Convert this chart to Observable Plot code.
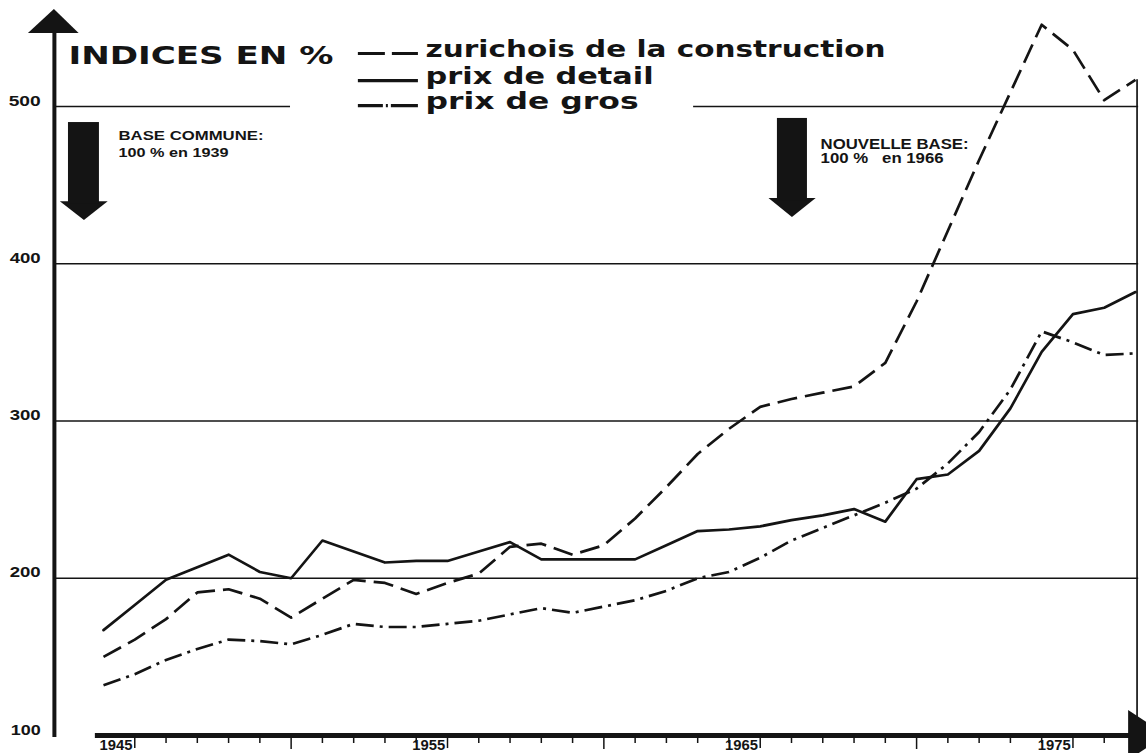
<!DOCTYPE html>
<html>
<head>
<meta charset="utf-8">
<script src="https://cdn.jsdelivr.net/npm/d3@7"></script>
<script src="https://cdn.jsdelivr.net/npm/@observablehq/plot@0.6"></script>
<style>
  html, body { margin: 0; padding: 0; background: #fff; }
  #chart svg { display: block; overflow: hidden; }
</style>
</head>
<body>
<div id="chart"></div>
<script>
// ---- data ----
const years = [1944,1945,1946,1947,1948,1949,1950,1951,1952,1953,1954,1955,1956,1957,1958,1959,1960,
               1961,1962,1963,1964,1965,1966,1967,1968,1969,1970,1971,1972,1973,1974,1975,1976,1977];
// indice zurichois de la construction (dashed)
const construction = [150,161,174,191,193,187,175,187,199,197,190,197,203,220,222,215,221,
                      238,258,279,295,309,314,318,322,337,376,421,466,509,552,536,504,517];
// prix de detail (solid)
const retail = [167,183,199,207,215,204,200,224,217,210,211,211,217,223,212,212,212,
                212,221,230,231,233,237,240,244,236,263,266,281,308,344,368,372,382];
// prix de gros (dash-dot)
const wholesale = [132,139,148,155,161,160,158,164,171,169,169,171,173,177,181,178,182,
                   186,192,200,204,213,224,232,240,248,257,273,293,320,357,350,342,343];

const seriesNames = ["zurichois de la construction", "prix de detail", "prix de gros"];
const titleText = "INDICES EN %";
const yTickValues = [100, 200, 300, 400, 500];
const xLabelYears = [1945, 1955, 1965, 1975];
const decadeYears = [1950, 1960, 1970];
const tickYears = [1945,1946,1947,1948,1949,1950,1951,1952,1953,1954,1955,1956,1957,1958,1959,1960,
                   1961,1962,1963,1964,1965,1966,1967,1968,1969,1970,1971,1972,1973,1974,1975,1976];
const noteLeft = ["BASE COMMUNE:", "100 % en 1939"];
const noteRight = ["NOUVELLE BASE:", "100 %\u00a0\u00a0 en 1966"];

// ---- build ----
const rows = (vals) => years.map((year, i) => ({year, value: vals[i]}));
const ink = "#141414";
const xAxisAt = 1942.43;          // year position of the vertical axis line
const rightEnd = 1977.1;

const minorTicks = tickYears.filter(y => !xLabelYears.includes(y) && !decadeYears.includes(y));

const arrowShafts = [
  {x1: 1942.88, x2: 1943.87, y1: 438.3, y2: 489.8},
  {x1: 1965.55, x2: 1966.51, y1: 440.2, y2: 492.4}
];
const arrowHeads = [
  {id: "l", x: 1942.62, y1: 439.5, y2: 439.5}, {id: "l", x: 1943.39, y1: 439.5, y2: 427.5}, {id: "l", x: 1944.15, y1: 439.5, y2: 439.5},
  {id: "r", x: 1965.28, y1: 441.5, y2: 441.5}, {id: "r", x: 1966.03, y1: 441.5, y2: 429.4}, {id: "r", x: 1966.79, y1: 441.5, y2: 441.5},
  {id: "ya", x: 1941.60, y1: 546.4, y2: 546.4}, {id: "ya", x: xAxisAt, y1: 546.4, y2: 561.7}, {id: "ya", x: 1943.22, y1: 546.4, y2: 546.4}
];
const xArrow = [
  {y: 115.9, x1: 1976.78, x2: 1976.78},
  {y: 100, x1: 1976.78, x2: 1978.0},
  {y: 84.1, x1: 1976.78, x2: 1976.78}
];

const txt = {fill: ink, fontFamily: "'Liberation Sans', Arial, sans-serif", fontWeight: "bold"};
const big = {fill: ink, fontFamily: "'DejaVu Sans', Verdana, sans-serif", fontWeight: "bold", textAnchor: "start", lineAnchor: "bottom"};

const svg = Plot.plot({
  width: 1146,
  height: 753,
  marginTop: 0, marginRight: 0, marginBottom: 0, marginLeft: 0,
  style: {background: "#fff", overflow: "hidden"},
  x: {domain: [1944, 1977], range: [103, 1135], axis: null},
  y: {domain: [100, 500], range: [735, 106], axis: null},
  marks: [
    // grid lines
    Plot.ruleY([200, 300, 400], {x1: xAxisAt, x2: rightEnd, stroke: ink, strokeWidth: 1.7}),
    Plot.ruleY([{a: xAxisAt, b: 1949.98}, {a: 1962.87, b: rightEnd}], {y: 500, x1: "a", x2: "b", stroke: ink, strokeWidth: 1.7}),
    // right border at last year
    Plot.ruleX([years[years.length - 1] + 0.05], {y1: 100, y2: construction[construction.length - 1], stroke: ink, strokeWidth: 1.7}),

    // series
    Plot.line(rows(construction), {x: "year", y: "value", stroke: ink, strokeWidth: 2.7, strokeDasharray: "20,8", strokeLinecap: "butt"}),
    Plot.line(rows(retail), {x: "year", y: "value", stroke: ink, strokeWidth: 2.7}),
    Plot.line(rows(wholesale), {x: "year", y: "value", stroke: ink, strokeWidth: 2.7, strokeDasharray: "18,6,3,6", strokeLinecap: "butt"}),

    // axes
    Plot.ruleX([xAxisAt], {y1: 98.7, y2: 548, stroke: ink, strokeWidth: 4}),
    Plot.ruleY([100], {x1: 1943.74, x2: 1976.9, stroke: ink, strokeWidth: 5}),
    Plot.ruleX(minorTicks, {y1: 100, y2: 94.9, stroke: ink, strokeWidth: 1.5}),
    Plot.ruleX(decadeYears, {y1: 100, y2: 91.1, stroke: ink, strokeWidth: 1.5}),
    Plot.ruleX(xLabelYears, {y1: 100, y2: 91.7, stroke: ink, strokeWidth: 1.5}),
    Plot.areaY(arrowHeads, {x: "x", y1: "y1", y2: "y2", z: "id", fill: ink, curve: "linear"}),
    Plot.areaX(xArrow, {y: "y", x1: "x1", x2: "x2", fill: ink, curve: "linear"}),
    Plot.text(xLabelYears, {x: d => d - 0.07, y: 97.3, text: d => String(d), textAnchor: "end", lineAnchor: "top", fontSize: 15, ...txt}),
    Plot.text(yTickValues, {x: 1941.99, y: d => d + 0.6, text: d => String(d), textAnchor: "end", lineAnchor: "bottom", fontSize: 14, ...txt}),

    // base arrows + notes
    Plot.rect(arrowShafts, {x1: "x1", x2: "x2", y1: "y1", y2: "y2", fill: ink, inset: 0}),
    Plot.text([noteLeft[0]], {x: 1944.48, y: 478.4, text: d => d, textAnchor: "start", lineAnchor: "bottom", fontSize: 13, ...txt}),
    Plot.text([noteLeft[1]], {x: 1944.48, y: 467.6, text: d => d, textAnchor: "start", lineAnchor: "bottom", fontSize: 13, ...txt}),
    Plot.text([noteRight[0]], {x: 1966.93, y: 472.7, text: d => d, textAnchor: "start", lineAnchor: "bottom", fontSize: 14, ...txt}),
    Plot.text([noteRight[1]], {x: 1966.93, y: 463.8, text: d => d, textAnchor: "start", lineAnchor: "bottom", fontSize: 14, ...txt}),

    // title + legend
    Plot.text([titleText], {x: 1942.88, y: 527.3, text: d => d, fontSize: 25, ...big}),
    Plot.ruleY([533.7], {x1: 1952.15, x2: 1954.07, stroke: ink, strokeWidth: 3.2, strokeDasharray: "27,7"}),
    Plot.ruleY([516.5], {x1: 1952.15, x2: 1954.07, stroke: ink, strokeWidth: 3.2}),
    Plot.ruleY([500.6], {x1: 1952.15, x2: 1954.07, stroke: ink, strokeWidth: 3.2, strokeDasharray: "25,3,2,3,30"}),
    Plot.text([seriesNames[0]], {x: 1954.30, y: 531.2, text: d => d, fontSize: 23, ...big}),
    Plot.text([seriesNames[1]], {x: 1954.30, y: 514.0, text: d => d, fontSize: 23, ...big}),
    Plot.text([seriesNames[2]], {x: 1954.30, y: 498.7, text: d => d, fontSize: 23, ...big})
  ]
});

// stretch texts to the widths of the original lettering
const fits = new Map([
  [titleText, 265],
  [seriesNames[0], 460], [seriesNames[1], 228], [seriesNames[2], 213],
  [noteLeft[0], 145], [noteLeft[1], 110], [noteRight[0], 148], [noteRight[1], 123],
  ["1945", 33], ["1955", 33], ["1965", 33], ["1975", 33],
  ["100", 30], ["200", 31], ["300", 31], ["400", 31], ["500", 32]
]);
d3.select(svg).selectAll("text").each(function () {
  const t = this.textContent;
  if (fits.has(t)) d3.select(this).attr("textLength", fits.get(t)).attr("lengthAdjust", "spacingAndGlyphs");
});
document.getElementById("chart").appendChild(svg);
</script>
</body>
</html>
